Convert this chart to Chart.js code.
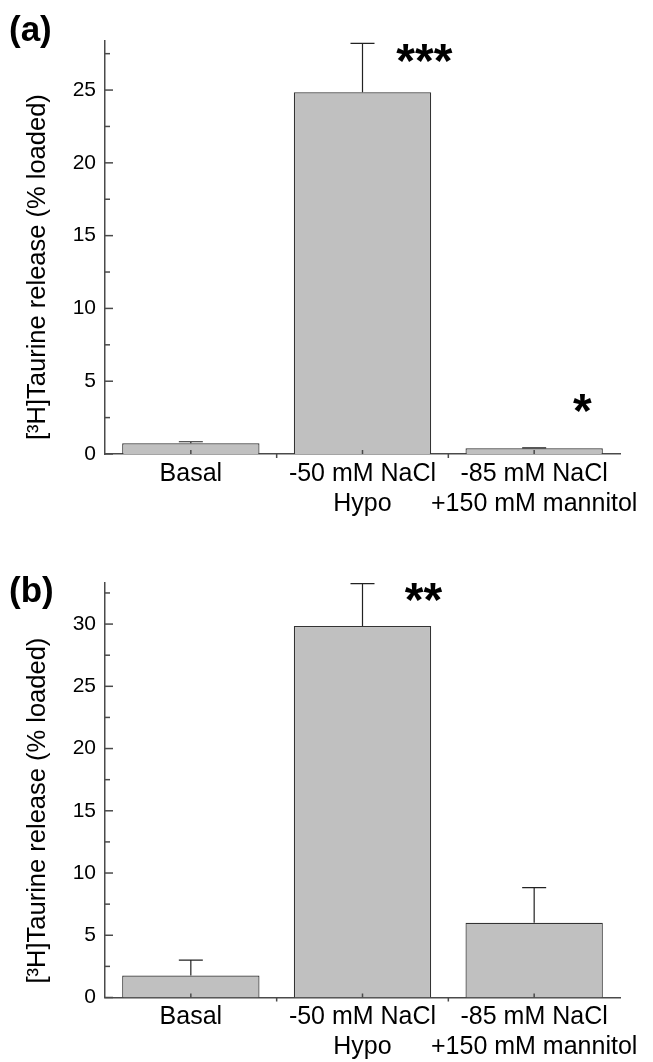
<!DOCTYPE html>
<html>
<head>
<meta charset="utf-8">
<script src="https://cdn.jsdelivr.net/npm/chart.js@4.4.0/dist/chart.umd.min.js"></script>
<style>
  body { margin: 0; background: #fff; width: 653px; height: 1062px; overflow: hidden; }
  .panel { position: absolute; left: 0; width: 653px; height: 531px; }
</style>
</head>
<body>
<div class="panel" style="top:0"><canvas id="chartA"></canvas></div>
<div class="panel" style="top:531px"><canvas id="chartB"></canvas></div>
<script>
// categories shared by both panels
const categories = ['Basal', ['-50 mM NaCl', 'Hypo'], ['-85 mM NaCl', '+150 mM mannitol']];

// panel (a)
const releaseA = [0.73, 24.85, 0.40];
const errA = [0.11, 3.35, 0.02];
const yMaxA = 28.37;
const starsA = [
  { cat: 1, dx: 0.36, y: 27.7, text: '***' },
  { cat: 2, dx: 0.28, y: 3.64, text: '*' }
];

// panel (b)
const releaseB = [1.77, 29.85, 6.0];
const errB = [1.23, 3.4, 2.83];
const yMaxB = 33.3;
const starsB = [
  { cat: 1, dx: 0.355, y: 32.75, text: '**' }
];

const yTitle = '[\u00b3H]Taurine release (% loaded)';
const axisColor = '#4a4a4a';
const font = "'Liberation Sans', Arial, sans-serif";

// error bars, inward ticks, stars, panel letter and y title
const decor = {
  id: 'decor',
  afterDraw(chart, args, opts) {
    const ctx = chart.ctx;
    const x = chart.scales.x, y = chart.scales.y;
    const area = chart.chartArea;
    const meta = chart.getDatasetMeta(0);
    const values = chart.data.datasets[0].data;
    ctx.save();

    // error bars
    ctx.strokeStyle = '#222';
    ctx.lineWidth = 1.2;
    meta.data.forEach((bar, i) => {
      const top = y.getPixelForValue(values[i] + opts.err[i]);
      ctx.beginPath();
      ctx.moveTo(bar.x, bar.y);
      ctx.lineTo(bar.x, top);
      ctx.moveTo(bar.x - 12, top);
      ctx.lineTo(bar.x + 12, top);
      ctx.stroke();
    });

    // y ticks pointing inward, major every 5, minor every 2.5
    ctx.strokeStyle = axisColor;
    ctx.lineWidth = 1.5;
    for (let v = 0; v <= y.max; v += 2.5) {
      const py = y.getPixelForValue(v);
      const len = v % 5 === 0 ? 8 : 5;
      ctx.beginPath();
      ctx.moveTo(area.left, py);
      ctx.lineTo(area.left + len, py);
      ctx.stroke();
    }

    // x ticks: centres up, boundaries down
    const half = (x.getPixelForValue(1) - x.getPixelForValue(0)) / 2;
    categories.forEach((c, i) => {
      const px = x.getPixelForValue(i);
      ctx.beginPath();
      ctx.moveTo(px, area.bottom);
      ctx.lineTo(px, area.bottom - 4);
      if (i > 0) {
        ctx.moveTo(px - half, area.bottom);
        ctx.lineTo(px - half, area.bottom + 4);
      }
      ctx.stroke();
    });

    // significance stars
    ctx.fillStyle = '#000';
    ctx.font = 'bold 48px ' + font;
    ctx.textAlign = 'center';
    ctx.textBaseline = 'alphabetic';
    opts.stars.forEach(s => {
      const px = x.getPixelForValue(s.cat) + s.dx * half * 2;
      const py = y.getPixelForValue(s.y);
      ctx.fillText(s.text, px, py + 0.55 * 48);
    });

    // panel letter
    ctx.font = 'bold 35px ' + font;
    ctx.textAlign = 'left';
    ctx.fillText(opts.letter, 9, opts.letterY);

    // y axis title
    ctx.translate(38, area.bottom - 14);
    ctx.rotate(-Math.PI / 2);
    ctx.font = '25.5px ' + font;
    ctx.textAlign = 'left';
    ctx.textBaseline = 'middle';
    ctx.fillText(yTitle, 0, 0);
    ctx.restore();
  }
};

function makeChart(id, values, err, yMax, stars, letter, letterY, plotTop, xHeight) {
  return new Chart(document.getElementById(id), {
    type: 'bar',
    data: {
      labels: categories,
      datasets: [{
        data: values,
        backgroundColor: '#c0c0c0',
        borderColor: '#333',
        borderWidth: 1.2,
        categoryPercentage: 0.8,
        barPercentage: 1.0
      }]
    },
    options: {
      responsive: true,
      maintainAspectRatio: false,
      animation: false,
      layout: { padding: { left: 0, right: 33, top: plotTop, bottom: 0 } },
      plugins: {
        legend: { display: false },
        tooltip: { enabled: false },
        decor: { err: err, stars: stars, letter: letter, letterY: letterY }
      },
      scales: {
        x: {
          grid: { display: false, drawTicks: false },
          border: { display: true, color: axisColor, width: 1.5 },
          ticks: {
            color: '#000',
            padding: 5,
            maxRotation: 0,
            autoSkip: false,
            font: { family: font, size: 25, lineHeight: 1.2 }
          },
          afterFit: s => { s.height = xHeight; }
        },
        y: {
          min: 0,
          max: yMax,
          grid: { display: false, drawTicks: false },
          border: { display: true, color: axisColor, width: 1.5 },
          ticks: {
            stepSize: 5,
            color: '#000',
            padding: 9,
            font: { family: font, size: 21 }
          },
          afterBuildTicks: s => { s.ticks = s.ticks.filter(t => t.value % 5 === 0); },
          afterFit: s => { s.width = 105; }
        }
      }
    },
    plugins: [decor]
  });
}

makeChart('chartA', releaseA, errA, yMaxA, starsA, '(a)', 41, 41, 77);
makeChart('chartB', releaseB, errB, yMaxB, starsB, '(b)', 71, 52, 64.5);
</script>
</body>
</html>
